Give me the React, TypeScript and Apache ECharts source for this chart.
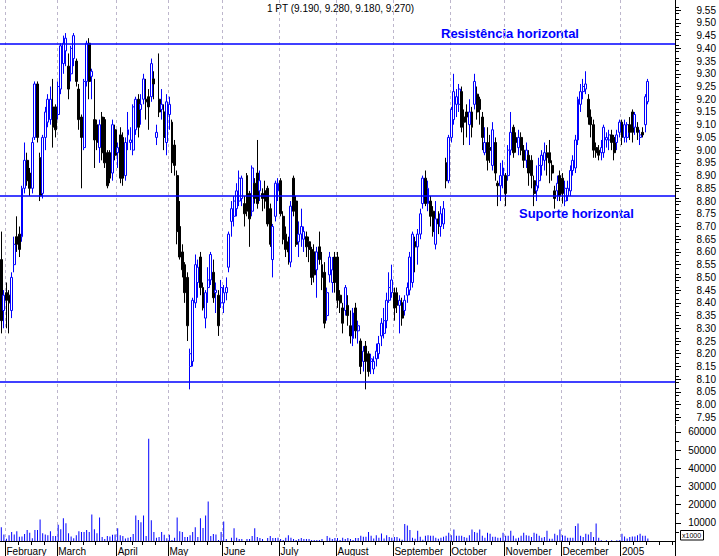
import React, { useEffect, useRef } from 'react';
import * as echarts from 'echarts';

// ---------- DATA (OHLC per trading day: [open, high, low, close]) ----------
const jan04 = [[8.57, 8.68, 8.28, 8.33], [8.37, 8.45, 8.30, 8.43]];
const feb04 = [
  [8.44, 8.48, 8.30, 8.41], [8.43, 8.45, 8.28, 8.40], [8.37, 8.52, 8.34, 8.50], [8.55, 8.66, 8.52, 8.63],
  [8.66, 8.74, 8.60, 8.63], [8.67, 8.70, 8.58, 8.61], [8.66, 8.86, 8.64, 8.85], [8.85, 9.03, 8.83, 8.96],
  [8.96, 8.99, 8.86, 8.88], [8.91, 8.93, 8.82, 8.85], [8.85, 9.05, 8.83, 9.03], [9.05, 9.27, 9.04, 9.26],
  [9.26, 9.27, 9.03, 9.05], [8.97, 8.99, 8.80, 8.82], [8.83, 9.06, 8.81, 9.05], [9.05, 9.17, 9.00, 9.15],
  [9.11, 9.22, 9.09, 9.20], [9.12, 9.25, 9.10, 9.20], [9.17, 9.28, 9.01, 9.09], [9.17, 9.18, 9.05, 9.08],
];
const mar04 = [
  [9.14, 9.27, 9.12, 9.25], [9.24, 9.42, 9.22, 9.41], [9.34, 9.45, 9.30, 9.42], [9.39, 9.46, 9.33, 9.44],
  [9.33, 9.38, 9.20, 9.24], [9.30, 9.41, 9.27, 9.40], [9.36, 9.46, 9.33, 9.45], [9.35, 9.36, 9.25, 9.27],
  [9.24, 9.26, 9.08, 9.12], [9.13, 9.14, 8.85, 9.05], [9.01, 9.28, 9.00, 9.27], [9.27, 9.43, 9.25, 9.42],
  [9.42, 9.44, 9.20, 9.27], [9.29, 9.32, 9.20, 9.31], [9.12, 9.28, 8.93, 9.04], [9.10, 9.12, 9.00, 9.03],
  [9.01, 9.12, 8.95, 9.10], [9.13, 9.15, 8.96, 8.99], [9.12, 9.13, 8.93, 8.95], [8.99, 9.00, 8.85, 8.86],
  [8.99, 9.00, 8.87, 8.89], [8.91, 9.12, 8.88, 9.10], [9.08, 9.10, 8.96, 8.98],
];
const apr04 = [
  [8.99, 9.03, 8.93, 9.01], [9.06, 9.09, 8.87, 8.89], [9.05, 9.07, 8.86, 8.89], [8.90, 9.05, 8.88, 9.03],
  [9.06, 9.15, 9.00, 9.08], [9.03, 9.09, 9.00, 9.04], [9.00, 9.18, 8.98, 9.17], [9.08, 9.21, 9.06, 9.20],
  [9.20, 9.22, 9.05, 9.09], [9.16, 9.22, 9.10, 9.18], [9.20, 9.30, 9.18, 9.28], [9.20, 9.28, 9.12, 9.19],
  [9.21, 9.24, 9.08, 9.17], [9.21, 9.36, 9.19, 9.34], [9.28, 9.31, 9.20, 9.26], [9.05, 9.10, 9.02, 9.07],
  [9.20, 9.38, 9.13, 9.15], [9.16, 9.24, 9.12, 9.18], [9.15, 9.18, 9.00, 9.05], [9.03, 9.22, 8.98, 9.19],
];
const may04 = [
  [9.14, 9.21, 9.08, 9.18], [9.11, 9.12, 8.91, 8.95], [9.02, 9.04, 8.90, 8.94], [8.90, 8.92, 8.63, 8.68],
  [8.70, 8.80, 8.57, 8.58], [8.60, 8.63, 8.50, 8.53], [8.55, 8.56, 8.40, 8.44], [8.50, 8.52, 8.25, 8.31],
  [8.15, 8.22, 8.06, 8.20], [8.17, 8.42, 8.15, 8.41], [8.40, 8.59, 8.38, 8.55], [8.48, 8.57, 8.42, 8.54],
  [8.58, 8.60, 8.43, 8.46], [8.46, 8.48, 8.37, 8.38], [8.34, 8.45, 8.30, 8.44], [8.46, 8.54, 8.40, 8.49],
  [8.49, 8.60, 8.47, 8.59], [8.52, 8.57, 8.40, 8.42], [8.44, 8.48, 8.36, 8.45], [8.43, 8.45, 8.27, 8.31],
  [8.40, 8.49, 8.38, 8.46],
];
const jun04 = [
  [8.40, 8.47, 8.36, 8.44], [8.44, 8.50, 8.41, 8.46], [8.54, 8.68, 8.52, 8.67], [8.72, 8.80, 8.66, 8.77],
  [8.74, 8.82, 8.70, 8.80], [8.77, 8.87, 8.74, 8.84], [8.80, 8.92, 8.78, 8.89], [8.81, 8.90, 8.78, 8.89],
  [8.79, 8.82, 8.70, 8.75], [8.90, 8.91, 8.74, 8.76], [8.83, 8.84, 8.62, 8.73], [8.76, 8.94, 8.74, 8.93],
  [8.87, 8.89, 8.79, 8.81], [8.91, 9.04, 8.77, 8.79], [8.84, 8.92, 8.80, 8.88], [8.83, 8.85, 8.76, 8.81],
  [8.84, 8.88, 8.77, 8.80], [8.85, 8.86, 8.70, 8.71], [8.77, 8.79, 8.62, 8.63], [8.57, 8.71, 8.50, 8.70],
  [8.74, 8.88, 8.72, 8.87], [8.84, 8.89, 8.80, 8.87],
];
const jul04 = [
  [8.88, 8.89, 8.74, 8.75], [8.74, 8.76, 8.63, 8.65], [8.67, 8.70, 8.58, 8.61], [8.64, 8.66, 8.55, 8.60],
  [8.56, 8.80, 8.54, 8.78], [8.89, 8.90, 8.74, 8.76], [8.80, 8.82, 8.62, 8.63], [8.64, 8.72, 8.58, 8.67],
  [8.67, 8.77, 8.62, 8.70], [8.65, 8.70, 8.60, 8.68], [8.66, 8.68, 8.58, 8.62], [8.64, 8.66, 8.56, 8.61],
  [8.61, 8.62, 8.47, 8.50], [8.60, 8.63, 8.48, 8.51], [8.53, 8.62, 8.42, 8.60], [8.62, 8.68, 8.55, 8.57],
  [8.55, 8.60, 8.45, 8.50], [8.52, 8.56, 8.30, 8.32], [8.35, 8.46, 8.33, 8.44], [8.51, 8.60, 8.48, 8.58],
  [8.48, 8.58, 8.44, 8.53], [8.58, 8.60, 8.44, 8.48],
];
const aug04 = [
  [8.58, 8.60, 8.38, 8.41], [8.43, 8.45, 8.36, 8.40], [8.38, 8.40, 8.28, 8.32], [8.37, 8.47, 8.35, 8.46],
  [8.39, 8.43, 8.31, 8.35], [8.31, 8.37, 8.24, 8.27], [8.26, 8.38, 8.23, 8.36], [8.38, 8.40, 8.26, 8.29],
  [8.29, 8.33, 8.24, 8.31], [8.25, 8.26, 8.12, 8.15], [8.17, 8.23, 8.13, 8.21], [8.23, 8.25, 8.06, 8.17],
  [8.20, 8.21, 8.11, 8.13], [8.17, 8.20, 8.12, 8.18], [8.14, 8.19, 8.12, 8.17], [8.18, 8.24, 8.15, 8.21],
  [8.20, 8.27, 8.18, 8.24], [8.27, 8.34, 8.23, 8.32], [8.28, 8.38, 8.26, 8.33], [8.33, 8.44, 8.30, 8.41],
  [8.41, 8.52, 8.40, 8.46], [8.44, 8.55, 8.42, 8.49],
];
const sep04 = [
  [8.44, 8.46, 8.33, 8.38], [8.44, 8.46, 8.36, 8.39], [8.39, 8.43, 8.28, 8.41], [8.40, 8.42, 8.31, 8.34],
  [8.37, 8.43, 8.35, 8.41], [8.43, 8.48, 8.40, 8.46], [8.45, 8.60, 8.43, 8.58], [8.48, 8.68, 8.46, 8.67],
  [8.64, 8.66, 8.52, 8.62], [8.62, 8.69, 8.55, 8.67], [8.67, 8.77, 8.65, 8.75], [8.79, 8.90, 8.77, 8.89],
  [8.89, 8.92, 8.78, 8.79], [8.79, 8.88, 8.76, 8.85], [8.80, 8.82, 8.70, 8.74], [8.76, 8.78, 8.66, 8.68],
  [8.63, 8.80, 8.61, 8.73], [8.73, 8.76, 8.67, 8.71], [8.70, 8.78, 8.66, 8.75], [8.71, 8.80, 8.69, 8.77],
  [8.95, 8.97, 8.85, 8.88], [8.88, 9.06, 8.87, 9.05],
];
const oct04 = [
  [9.05, 9.17, 9.03, 9.16], [9.12, 9.30, 9.10, 9.23], [9.18, 9.24, 9.13, 9.21], [9.18, 9.26, 9.15, 9.24],
  [9.23, 9.25, 9.07, 9.09], [9.13, 9.16, 9.02, 9.11], [9.15, 9.18, 9.05, 9.13], [9.10, 9.20, 9.02, 9.15],
  [9.15, 9.17, 9.05, 9.09], [9.18, 9.30, 9.16, 9.27], [9.22, 9.25, 9.12, 9.15], [9.20, 9.21, 9.10, 9.16],
  [9.13, 9.15, 9.00, 9.05], [8.99, 9.09, 8.98, 9.03], [9.03, 9.09, 8.92, 8.96], [9.01, 9.06, 8.95, 9.00],
  [8.94, 9.11, 8.92, 9.08], [9.03, 9.05, 8.88, 8.91], [8.87, 8.88, 8.78, 8.86], [8.86, 8.95, 8.80, 8.90],
  [8.90, 8.96, 8.85, 8.93],
];
const nov04 = [
  [8.90, 8.91, 8.78, 8.83], [8.90, 9.02, 8.88, 9.00], [9.00, 9.15, 8.98, 9.07], [9.09, 9.10, 8.97, 8.99],
  [9.05, 9.07, 8.99, 9.03], [9.01, 9.08, 8.98, 9.05], [9.05, 9.07, 8.98, 9.00], [9.00, 9.02, 8.93, 8.96],
  [8.96, 9.03, 8.93, 9.00], [8.98, 9.00, 8.86, 8.91], [8.96, 8.98, 8.85, 8.90], [8.88, 8.90, 8.78, 8.83],
  [8.84, 8.94, 8.80, 8.86], [8.88, 8.97, 8.85, 8.94], [8.94, 9.00, 8.90, 8.98], [8.96, 9.03, 8.92, 8.99],
  [8.99, 9.02, 8.90, 8.97], [8.99, 9.04, 8.87, 8.95], [8.94, 8.96, 8.88, 8.91], [8.84, 8.86, 8.77, 8.81],
  [8.84, 8.90, 8.80, 8.87], [8.90, 8.92, 8.80, 8.82],
];
const dec04 = [
  [8.89, 8.91, 8.79, 8.83], [8.80, 8.88, 8.78, 8.85], [8.82, 8.88, 8.80, 8.85], [8.84, 8.94, 8.82, 8.92],
  [8.92, 8.98, 8.90, 8.96], [8.93, 9.06, 8.91, 9.04], [9.04, 9.21, 9.02, 9.20], [9.18, 9.26, 9.15, 9.23],
  [9.23, 9.28, 9.20, 9.25], [9.24, 9.31, 9.22, 9.26], [9.20, 9.22, 9.10, 9.13], [9.13, 9.16, 9.05, 9.10],
  [9.10, 9.12, 8.97, 9.00], [9.01, 9.03, 8.97, 8.99], [9.00, 9.02, 8.96, 8.98], [8.99, 9.04, 8.96, 9.01],
  [8.99, 9.10, 8.97, 9.09], [9.04, 9.07, 9.01, 9.05], [9.04, 9.08, 9.00, 9.06], [9.06, 9.08, 9.00, 9.03],
  [9.05, 9.06, 8.96, 8.99], [9.03, 9.08, 9.00, 9.06], [9.07, 9.12, 9.05, 9.11],
];
const jan05 = [
  [9.11, 9.12, 9.02, 9.05], [9.05, 9.12, 9.03, 9.10], [9.05, 9.11, 9.03, 9.10], [9.10, 9.13, 9.04, 9.07],
  [9.15, 9.16, 9.03, 9.07], [9.09, 9.15, 9.06, 9.14], [9.09, 9.11, 9.04, 9.07], [9.05, 9.08, 9.02, 9.06],
  [9.07, 9.09, 9.05, 9.06], [9.10, 9.22, 9.07, 9.21], [9.19, 9.28, 9.18, 9.27],
];

// Volume per trading day (shares)
const volJan04 = [7600, 3600];
const volFeb04 = [1200, 3200, 4900, 3600, 5400, 2300, 2500, 3800, 6000, 4500, 1500, 6000, 6000, 11900, 4300, 3600, 3200, 5400, 2700, 2700];
const volMar04 = [9000, 6500, 12500, 9750, 4300, 2500, 1500, 3200, 5400, 4900, 4900, 6100, 4900, 14600, 6500, 4300, 13000, 2200, 1100, 2700, 2500, 3400, 3600];
const volApr04 = [7000, 3200, 2700, 1400, 1800, 2200, 3800, 14000, 11500, 10300, 14000, 2700, 56300, 11400, 4900, 1800, 2200, 4900, 3400, 1500];
const volMay04 = [3400, 500, 1800, 13000, 5400, 4900, 2200, 2200, 3200, 4900, 7600, 2200, 12500, 7200, 14000, 21700, 2700, 3800, 3600, 500, 4900];
const volJun04 = [10800, 1100, 0, 1800, 7000, 1800, 1100, 1100, 0, 1100, 1100, 2700, 7000, 2200, 1600, 1100, 0, 1600, 2700, 1600, 1600, 1800];
const volJul04 = [1100, 500, 1800, 3200, 1800, 1100, 500, 1100, 1600, 1100, 1100, 1100, 500, 500, 500, 500, 1100, 0, 2700, 1800, 1100, 1600];
const volAug04 = [1600, 500, 1800, 1100, 1600, 1100, 500, 1600, 1600, 2900, 2300, 2300, 5000, 2900, 1400, 3200, 1800, 4100, 1400, 3200, 2200, 1800];
const volSep04 = [2200, 2200, 1400, 700, 9400, 8500, 6100, 1800, 1300, 5600, 2300, 700, 2900, 3200, 2900, 2900, 1800, 1300, 1800, 2300, 2900, 4500];
const volOct04 = [3200, 6300, 2900, 2900, 2900, 2200, 1800, 3200, 6300, 5000, 4500, 6300, 2900, 1800, 4500, 4000, 2300, 2300, 1800, 1800, 4500];
const volNov04 = [2900, 2900, 5600, 2900, 1400, 1800, 2900, 4500, 3200, 2900, 2200, 4500, 4000, 2900, 1800, 2200, 5600, 1300, 1300, 4000, 3200, 6300];
const volDec04 = [3200, 2900, 1800, 1800, 1800, 8300, 9700, 2900, 2200, 4000, 3600, 5000, 2200, 9700, 1800, 400, 0, 400, 0, 400, 0, 400, 400];
const volJan05 = [4000, 2500, 1400, 2200, 2500, 2500, 3200, 4000, 2900, 2900, 1400];

const priceTickLabels = [7.95, 8.0, 8.05, 8.1, 8.15, 8.2, 8.25, 8.3, 8.35, 8.4, 8.45, 8.5, 8.55, 8.6, 8.65, 8.7, 8.75,
  8.8, 8.85, 8.9, 8.95, 9.0, 9.05, 9.1, 9.15, 9.2, 9.25, 9.3, 9.35, 9.4, 9.45, 9.5, 9.55];
const volumeTickLabels = [10000, 20000, 30000, 40000, 50000, 60000];
const monthNames = ['January', 'February', 'March', 'April', 'May', 'June', 'July', 'August', 'September', 'October', 'November', 'December'];
const horizontalLevels = [9.424, 8.819, 8.092];
const titleText = '1 PT (9.190, 9.280, 9.180, 9.270)';
const resistanceText = 'Resistência horizontal';
const supportText = 'Suporte horizontal';
const calendarStart = '2004-01-29';
const calendarEnd = '2005-01-31';
const holidays = ['2004-04-09', '2004-04-12'];

// ---------- helpers ----------
function tradingDays(): string[] {
  const out: string[] = [];
  const d = new Date(calendarStart + 'T00:00:00Z');
  const end = new Date(calendarEnd + 'T00:00:00Z');
  while (d.getTime() <= end.getTime()) {
    const wd = d.getUTCDay();
    const s = d.toISOString().slice(0, 10);
    if (wd !== 0 && wd !== 6 && holidays.indexOf(s) < 0) out.push(s);
    d.setUTCDate(d.getUTCDate() + 1);
  }
  return out;
}

const FONT = 'Liberation Sans';
const BLUE = '#0000ff';
const GRIDLINE = '#bdb6cc';

export default function App() {
  const ref = useRef<HTMLDivElement>(null);

  useEffect(() => {
    if (!ref.current) return;
    const chart = echarts.init(ref.current, undefined, { renderer: 'svg' });

    const days = tradingDays();
    const dow = days.map((s) => new Date(s + 'T00:00:00Z').getUTCDay());
    const monthStart = (i: number) => i > 0 && days[i].slice(5, 7) !== days[i - 1].slice(5, 7);
    const weekStart = (i: number) => i > 0 && dow[i] <= dow[i - 1];

    const ohlc = [...jan04, ...feb04, ...mar04, ...apr04, ...may04, ...jun04, ...jul04, ...aug04, ...sep04, ...oct04, ...nov04, ...dec04, ...jan05];
    const candleData = ohlc.map(([o, h, l, c]) => [o, c, l, h]);
    const volumes = [...volJan04, ...volFeb04, ...volMar04, ...volApr04, ...volMay04, ...volJun04, ...volJul04, ...volAug04, ...volSep04, ...volOct04, ...volNov04, ...volDec04, ...volJan05];

    const priceMinor: number[] = [];
    priceTickLabels.forEach((p) => { priceMinor.push(+(p - 0.0125).toFixed(4), +(p + 0.0125).toFixed(4)); });
    const volMinor: number[] = volumeTickLabels.map((v) => v - 5000);

    const priceMin = 7.92, priceMax = 9.59, volMax = 63300;
    const gridLeft = -2, gridRight = 44;
    const splitLine = { show: true, interval: (i: number) => monthStart(i), lineStyle: { color: GRIDLINE, type: [3, 3] as any, width: 1 } };

    chart.setOption({
      animation: false,
      backgroundColor: '#ffffff',
      textStyle: { fontFamily: FONT },
      grid: [
        { left: gridLeft, right: gridRight, top: 0, height: 425 },
        { left: gridLeft, right: gridRight, top: 426, height: 115 },
        { left: gridLeft, right: gridRight, top: 0, height: 425 },
        { left: gridLeft, right: gridRight, top: 426, height: 115 },
      ],
      xAxis: [
        { type: 'category', gridIndex: 0, data: days, axisLine: { show: false }, axisTick: { show: false }, axisLabel: { show: false }, splitLine },
        {
          type: 'category', gridIndex: 1, data: days,
          axisLine: { show: true, lineStyle: { color: '#000', width: 1 } },
          axisTick: { show: true, interval: (i: number) => monthStart(i), length: 15, lineStyle: { color: '#000' } },
          axisLabel: {
            show: true, interval: (i: number) => monthStart(i), align: 'left', margin: 5, fontSize: 10, color: '#000', fontFamily: FONT,
            formatter: (v: string) => { const m = +v.slice(5, 7) - 1; return m === 0 ? v.slice(0, 4) : monthNames[m]; },
          },
          splitLine,
        },
        { type: 'category', gridIndex: 2, data: days, show: false },
        {
          type: 'category', gridIndex: 3, data: days,
          axisLine: { show: false },
          axisTick: { show: true, interval: (i: number) => weekStart(i), length: 4, lineStyle: { color: '#000' } },
          axisLabel: { show: false }, splitLine: { show: false },
        },
      ],
      yAxis: [
        {
          type: 'value', gridIndex: 0, position: 'right', min: priceMin, max: priceMax,
          axisLine: { show: true, lineStyle: { color: '#000' } },
          axisTick: { show: true, customValues: priceTickLabels, length: 6, lineStyle: { color: '#000' } },
          axisLabel: { customValues: priceTickLabels, formatter: (v: number) => v.toFixed(2), align: 'right', margin: 41, fontSize: 10, color: '#000', fontFamily: FONT },
          splitLine: { show: false },
        },
        {
          type: 'value', gridIndex: 1, position: 'right', min: 0, max: volMax,
          axisLine: { show: true, lineStyle: { color: '#000' } },
          axisTick: { show: true, customValues: volumeTickLabels, length: 6, lineStyle: { color: '#000' } },
          axisLabel: { customValues: volumeTickLabels, formatter: (v: number) => String(v), align: 'right', margin: 41, fontSize: 10, color: '#000', fontFamily: FONT },
          splitLine: { show: false },
        },
        {
          type: 'value', gridIndex: 2, position: 'right', min: priceMin, max: priceMax,
          axisLine: { show: false },
          axisTick: { show: true, customValues: priceMinor, length: 4, lineStyle: { color: '#000' } },
          axisLabel: { show: false }, splitLine: { show: false },
        },
        {
          type: 'value', gridIndex: 3, position: 'right', min: 0, max: volMax,
          axisLine: { show: false },
          axisTick: { show: true, customValues: volMinor, length: 4, lineStyle: { color: '#000' } },
          axisLabel: { show: false }, splitLine: { show: false },
        },
      ],
      series: [
        {
          type: 'candlestick', xAxisIndex: 0, yAxisIndex: 0, data: candleData, barWidth: 2.4,
          itemStyle: { color: '#ffffff', color0: '#000000', borderColor: BLUE, borderColor0: '#000000', borderWidth: 1 },
          markLine: {
            silent: true, symbol: ['none', 'none'], label: { show: false },
            lineStyle: { color: BLUE, width: 1.5, type: 'solid' },
            data: horizontalLevels.map((y) => ({ yAxis: y })),
          },
        },
        {
          type: 'bar', xAxisIndex: 1, yAxisIndex: 1, data: volumes, barWidth: 1,
          itemStyle: { color: BLUE },
        },
      ],
      graphic: [
        { type: 'text', x: 267, y: 8.5, style: { text: titleText, fill: '#000', font: `10px "${FONT}"`, align: 'left', verticalAlign: 'middle' } },
        { type: 'text', x: 441, y: 33.2, style: { text: resistanceText, fill: BLUE, font: `bold 13px "${FONT}"`, align: 'left', verticalAlign: 'middle' } },
        { type: 'text', x: 519, y: 213.8, style: { text: supportText, fill: BLUE, font: `bold 13px "${FONT}"`, align: 'left', verticalAlign: 'middle' } },
        { type: 'rect', shape: { x: 680.5, y: 530.5, width: 23, height: 9.5 }, style: { fill: '#ffffff', stroke: '#000', lineWidth: 1 } },
        { type: 'text', x: 682, y: 535.5, style: { text: 'x1000', fill: '#000', font: `7px "${FONT}"`, align: 'left', verticalAlign: 'middle' } },
      ],
    });

    return () => chart.dispose();
  }, []);

  return <div ref={ref} style={{ position: 'absolute', left: 0, top: 0, width: 719, height: 556 }} />;
}
